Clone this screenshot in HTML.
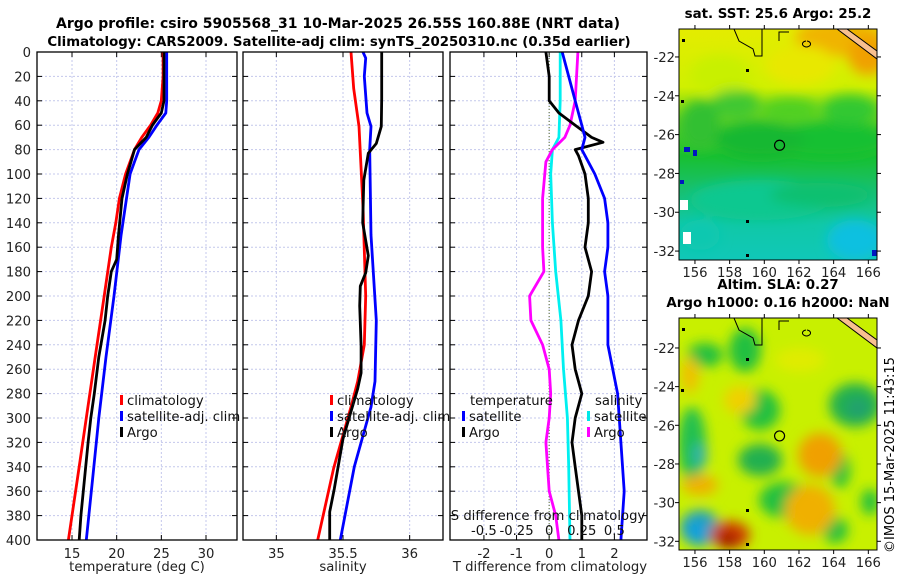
<!DOCTYPE html>
<html><head><meta charset="utf-8">
<style>
html,body{margin:0;padding:0;background:#fff;}
svg{display:block;font-family:"DejaVu Sans","Liberation Sans",sans-serif;}
</style></head>
<body>
<svg id="chart" width="900" height="580" viewBox="0 0 900 580" xmlns="http://www.w3.org/2000/svg">
<defs>
<filter id="blur1" x="-50%" y="-50%" width="200%" height="200%"><feGaussianBlur stdDeviation="6"/></filter>
<clipPath id="clipMapTop"><rect x="679" y="29" width="198" height="231"/></clipPath>
<clipPath id="clipMapBot"><rect x="679" y="318" width="198" height="232"/></clipPath>
<clipPath id="clipP1"><rect x="37" y="52" width="200" height="488"/></clipPath>
<clipPath id="clipP2"><rect x="243" y="52" width="200" height="488"/></clipPath>
<clipPath id="clipP3"><rect x="450" y="52" width="197" height="488"/></clipPath>
<linearGradient id="sstGrad" x1="0" y1="0" x2="0" y2="1">
<stop offset="0" stop-color="#e4ec00"/><stop offset="0.25" stop-color="#d0f000"/>
<stop offset="0.4" stop-color="#60d020"/><stop offset="0.55" stop-color="#18c030"/>
<stop offset="0.7" stop-color="#18c070"/><stop offset="0.85" stop-color="#10c8a8"/><stop offset="1" stop-color="#10c8b8"/>
</linearGradient>
</defs>
<text x="338" y="28" font-size="14" font-weight="bold" text-anchor="middle">Argo profile: csiro 5905568_31 10-Mar-2025 26.55S 160.88E (NRT data)</text>
<text x="339" y="46" font-size="13.3" font-weight="bold" text-anchor="middle">Climatology: CARS2009. Satellite-adj clim: synTS_20250310.nc (0.35d earlier)</text>
<g id="panels"></g>
<g id="maps"></g>
<text transform="translate(894,455) rotate(-90)" font-size="13" text-anchor="middle">©IMOS 15-Mar-2025 11:43:15</text>
</svg>
<script>
// ---------- DATA ----------
const depthTicks = [0,20,40,60,80,100,120,140,160,180,200,220,240,260,280,300,320,340,360,380,400];
const tempTicks = [15,20,25,30];
const salTicks = [35,35.5,36];
const salTickLabels = ["35","35.5","36"];
const tdiffTicks = [-2,-1,0,1,2];
const sdiffTicks = [-0.5,-0.25,0,0.25,0.5];
const sdiffTickLabels = ["-0.5","-0.25","0","0.25","0.5"];

const tClimDepth = [0,20,40,50,60,70,80,100,120,140,160,200,250,300,350,400];
const tClimVal   = [25.2,25.2,25.0,24.6,23.8,22.8,22.0,21.0,20.3,19.9,19.4,18.6,17.6,16.6,15.6,14.6];
const tSatDepth  = [0,40,50,60,70,80,90,100,150,200,250,300,350,400];
const tSatVal    = [25.6,25.6,25.5,24.5,23.6,22.5,22.0,21.5,20.5,19.7,18.8,18.0,17.3,16.6];
const tArgoDepth = [0,40,50,60,70,80,90,100,120,150,170,180,200,220,250,280,300,320,350,380,400];
const tArgoVal   = [25.3,25.3,25.0,24.0,23.3,22.0,21.6,21.2,20.6,20.2,20.0,19.4,19.0,18.7,18.0,17.5,17.1,16.8,16.4,16.0,15.8];

const sClimDepth = [0,30,61,127,200,240,270,291,341,400];
const sClimVal   = [35.56,35.58,35.62,35.65,35.67,35.66,35.61,35.56,35.43,35.31];
const sSatDepth  = [0,5,20,50,61,80,150,220,270,291,340,400];
const sSatVal    = [35.65,35.67,35.66,35.68,35.71,35.70,35.71,35.75,35.74,35.71,35.585,35.48];
const sArgoDepth = [0,38,61,75,83,105,140,167,181,192,208,241,263,276,317,358,377,400];
const sArgoVal   = [35.79,35.79,35.787,35.75,35.69,35.656,35.648,35.69,35.67,35.63,35.625,35.636,35.636,35.61,35.5,35.435,35.40,35.40];

const dTArgoDepth = [0,20,40,50,60,70,74,80,85,100,120,140,160,180,200,220,240,260,280,300,320,340,360,380,400];
const dTArgoVal   = [-0.1,0.0,0.0,0.3,0.8,1.3,1.65,0.8,0.9,1.1,1.2,1.2,1.1,1.3,1.2,0.9,0.7,0.8,1.0,0.8,0.7,0.8,0.9,1.0,1.0];
const dTSatDepth  = [0,20,40,60,70,80,90,100,120,140,160,180,200,240,280,320,360,400];
const dTSatVal    = [0.4,0.6,0.8,1.0,1.1,1.0,1.2,1.4,1.7,1.8,1.8,1.7,1.8,1.8,2.1,2.2,2.3,2.2];
const dSSatDepth  = [0,40,70,80,100,140,180,220,260,300,340,400];
const dSSatVal    = [0.085,0.085,0.075,0.025,0.012,0.025,0.05,0.09,0.11,0.14,0.15,0.16];
const dSArgoDepth = [0,40,60,70,80,90,120,160,180,200,220,240,260,280,300,320,360,380,400];
const dSArgoVal   = [0.22,0.2,0.16,0.12,0.025,-0.025,-0.05,-0.05,-0.04,-0.15,-0.14,-0.05,0.0,0.012,0.0,-0.025,0.0,0.05,0.075];

const mapLonTicks = [156,158,160,162,164,166];
const mapLatTicks = [-22,-24,-26,-28,-30,-32];
const argoLon = [160.88];
const argoLat = [-26.55];

// ---------- HELPERS ----------
const NS = "http://www.w3.org/2000/svg";
function mk(tag, attrs, parent){ const e=document.createElementNS(NS,tag); for(const k in attrs) e.setAttribute(k,attrs[k]); parent.appendChild(e); return e; }
const P = document.getElementById('panels');
const M = document.getElementById('maps');
const yTop=52, yBot=540;
const FS=13.2;
function yScale(d){ return yTop + (d/400)*(yBot-yTop); }

function makePanel(name, x0, x1, vmin, vmax){
  return { name, x0, x1, sx: v => x0 + (v-vmin)/(vmax-vmin)*(x1-x0) };
}
const p1 = makePanel('temperature-panel',37,237,11.08,33.47);
const p2 = makePanel('salinity-panel',243,443,34.75,36.25);
const p3 = makePanel('difference-panel',450,647,-3.04,3.0);
const sdx = v => p3.sx(v*4);

function grid(p, xt, sxf, withLabels, labels){
  const g = mk('g',{},P);
  
  
  depthTicks.forEach(d=>{
    const y=yScale(d);
    if(d>0 && d<400){
      const l=mk('line',{x1:p.x0,x2:p.x1,y1:y,y2:y,stroke:'#c4c8ec','stroke-width':1,'stroke-dasharray':'2,2'},g);
      
      
    }
    mk('line',{x1:p.x0,x2:p.x0+5,y1:y,y2:y,stroke:'#000'},g);
    mk('line',{x1:p.x1-5,x2:p.x1,y1:y,y2:y,stroke:'#000'},g);
    if(withLabels){
      const t=mk('text',{x:p.x0-6,y:y+5,'font-size':FS,'text-anchor':'end',fill:'#222'},g);
      t.textContent=d;
      
      
    }
  });
  xt.forEach((v,i)=>{
    const x=sxf(v);
    const l=mk('line',{x1:x,x2:x,y1:yTop,y2:yBot,stroke:'#c4c8ec','stroke-width':1,'stroke-dasharray':'2,2'},g);
    
    
    mk('line',{x1:x,x2:x,y1:yBot,y2:yBot-5,stroke:'#000'},g);
    mk('line',{x1:x,x2:x,y1:yTop,y2:yTop+5,stroke:'#000'},g);
    const t=mk('text',{x:x,y:yBot+18,'font-size':FS,'text-anchor':'middle',fill:'#222'},g);
    t.textContent=labels?labels[i]:v;
    
    
  });
}
function frame(p){
  const r=mk('rect',{x:p.x0,y:yTop,width:p.x1-p.x0,height:yBot-yTop,fill:'none',stroke:'#000','stroke-width':1.3},P);
  
  
}
function series(name, depths, vals, sxf, color, clip){
  const pts = depths.map((d,i)=> sxf(vals[i]).toFixed(1)+','+yScale(d).toFixed(1)).join(' ');
  const pl = mk('polyline',{points:pts,fill:'none',stroke:color,'stroke-width':2.8,'stroke-linejoin':'round','clip-path':'url(#'+clip+')'},P);
  
  
}
function legendEntry(name, x, y, color, label){
  const g=mk('g',{},P);
  
  
  mk('rect',{x:x,y:y-10,width:3,height:10,fill:color},g);
  const t=mk('text',{x:x+7,y:y,'font-size':FS,fill:'#111'},g);
  t.textContent=label;
}
function xlabel(name, x, y, txt){
  const t=mk('text',{x:x,y:y,'font-size':FS,'text-anchor':'middle',fill:'#222'},P);
  t.textContent=txt;
  
  
}

// ---------- PANEL 1 ----------
grid(p1,tempTicks,p1.sx,true);
series('temp-climatology-line',tClimDepth,tClimVal,p1.sx,'#ff0000','clipP1');
series('temp-satellite-line',tSatDepth,tSatVal,p1.sx,'#0000ff','clipP1');
series('temp-argo-line',tArgoDepth,tArgoVal,p1.sx,'#000000','clipP1');
frame(p1);
legendEntry('legend-climatology',120,405,'#ff0000','climatology');
legendEntry('legend-satellite-adj',120,421,'#0000ff','satellite-adj. clim');
legendEntry('legend-argo',120,437,'#000000','Argo');
xlabel('x-axis-title-temperature',137,571,'temperature (deg C)');

// ---------- PANEL 2 ----------
grid(p2,salTicks,p2.sx,false,salTickLabels);
series('sal-climatology-line',sClimDepth,sClimVal,p2.sx,'#ff0000','clipP2');
series('sal-satellite-line',sSatDepth,sSatVal,p2.sx,'#0000ff','clipP2');
series('sal-argo-line',sArgoDepth,sArgoVal,p2.sx,'#000000','clipP2');
frame(p2);
legendEntry('legend-sal-climatology',330,405,'#ff0000','climatology');
legendEntry('legend-sal-satellite-adj',330,421,'#0000ff','satellite-adj. clim');
legendEntry('legend-sal-argo',330,437,'#000000','Argo');
xlabel('x-axis-title-salinity',343,571,'salinity');

// ---------- PANEL 3 ----------
grid(p3,tdiffTicks,p3.sx,false);
(function(){
  const z=p3.sx(0);
  const l=mk('line',{x1:z,x2:z,y1:yTop,y2:yBot,stroke:'#556b2f','stroke-width':1,'stroke-dasharray':'1,2'},P);
  
  
})();
series('sdiff-satellite-line',dSSatDepth,dSSatVal,sdx,'#00f0f0','clipP3');
series('sdiff-argo-line',dSArgoDepth,dSArgoVal,sdx,'#ff00ff','clipP3');
series('tdiff-argo-line',dTArgoDepth,dTArgoVal,p3.sx,'#000000','clipP3');
series('tdiff-satellite-line',dTSatDepth,dTSatVal,p3.sx,'#0000ff','clipP3');
frame(p3);
(function(){
  let t=mk('text',{x:470,y:405,'font-size':FS,fill:'#111'},P);
  t.textContent='temperature';
  
  
  t=mk('text',{x:595,y:405,'font-size':FS,fill:'#111'},P);
  t.textContent='salinity';
  
  
})();
legendEntry('legend-tdiff-satellite',462,421,'#0000ff','satellite');
legendEntry('legend-tdiff-argo',462,437,'#000000','Argo');
legendEntry('legend-sdiff-satellite',587,421,'#00e8e8','satellite');
legendEntry('legend-sdiff-argo',587,437,'#ff00ff','Argo');
(function(){
  const t=mk('text',{x:548,y:520,'font-size':FS,'text-anchor':'middle',fill:'#111'},P);
  t.textContent='S difference from climatology';
  
  
  sdiffTicks.forEach((v,i)=>{
    const tt=mk('text',{x:sdx(v),y:535,'font-size':FS,'text-anchor':'middle',fill:'#111'},P);
    tt.textContent=sdiffTickLabels[i];
    
    
  });
})();
xlabel('x-axis-title-tdiff',550,571,'T difference from climatology');

// ---------- MAPS ----------
function drawMap(name, y0, y1, latTop, latBot, kind, clip, title){
  const x0=679, x1=877, lonL=155.08, lonR=166.5;
  const lx = lon => x0 + (lon-lonL)/(lonR-lonL)*(x1-x0);
  const ly = lat => y0 + (latTop-lat)/(latTop-latBot)*(y1-y0);
  const g=mk('g',{},M);
  
  
  const inner=mk('g',{'clip-path':'url(#'+clip+')'},g);
  if(kind==='sst'){
    mk('rect',{x:x0,y:y0,width:198,height:231,fill:'url(#sstGrad)'},inner);
  } else {
    mk('rect',{x:x0,y:y0,width:198,height:232,fill:'#c8f000'},inner);
  }
  const blobs=mk('g',{filter:'url(#blur1)'},inner);
  if(kind==='sst'){
    [[840,38,45,18,'#f0b400'],[868,55,20,20,'#f0a000'],[800,65,35,20,'#e8e800'],[720,75,30,20,'#c8f000'],
     [735,105,25,15,'#40c830'],[700,125,20,25,'#30c030'],[830,140,60,18,'#18c030'],[760,140,45,18,'#18b830'],
     [760,200,70,20,'#10c890'],[855,240,28,20,'#10c0e0'],[700,235,20,15,'#10c8b0'],[820,195,50,12,'#10c070'],
     [850,110,28,15,'#30c830'],[790,110,30,12,'#50d020']
    ].forEach(b=>mk('ellipse',{cx:b[0],cy:b[1],rx:b[2],ry:b[3],fill:b[4]},blobs));
    [[680,200,8,10],[683,232,8,12]].forEach(r=>{
      const e=mk('rect',{x:r[0],y:r[1],width:r[2],height:r[3],fill:'#fff'},inner);
      
      
    });
    [[684,147,6,5],[693,150,4,6],[680,180,4,4],[872,250,5,6]].forEach(r=>mk('rect',{x:r[0],y:r[1],width:r[2],height:r[3],fill:'#0018c0'},inner));
  } else {
    [[705,355,18,12,'#20c040'],[745,350,16,22,'#20c040'],[855,405,26,22,'#20b050'],[858,408,12,10,'#20a070'],
     [692,445,14,38,'#20c050'],[700,455,7,12,'#30b0b0'],[760,460,22,16,'#20b050'],[785,500,26,18,'#20c040'],
     [840,470,10,18,'#20c040'],[870,502,9,13,'#20c040'],[835,530,13,13,'#20c040'],[760,410,20,20,'#20c040'],
     [700,528,20,18,'#20a0c0'],[696,532,9,10,'#10a0e0'],[730,535,20,14,'#d04000'],[728,540,10,8,'#a01800'],
     [820,455,22,22,'#f0a000'],[810,510,25,25,'#f0b000'],[700,485,18,10,'#f0b000'],[740,400,16,14,'#f0d000'],
     [690,375,9,18,'#f0c000'],[800,360,25,12,'#e0ec00']
    ].forEach(b=>mk('ellipse',{cx:b[0],cy:b[1],rx:b[2],ry:b[3],fill:b[4]},blobs));
  }
  const c1=mk('path',{d:`M${x0+55},${y0} L${x0+60},${y0+12} L${x0+74},${y0+20} L${x0+76},${y0+27} L${x0+83},${y0+27} L${x0+83},${y0} M${x0+100},${y0+12} L${x0+100},${y0+3} L${x0+110},${y0+3} M${x0+127},${y0+12} a4,3 0 1,0 1,0`,fill:'none',stroke:'#000','stroke-width':1},inner);
  
  
  const land=mk('path',{d:`M${x1-40},${y0} L${x1},${y0+30} L${x1},${y0+22} L${x1-30},${y0}Z`,fill:'#f8c090',stroke:'#000','stroke-width':1},inner);
  
  
  [[x0+3,y0+10],[x0+2,y0+71],[x0+67,y0+40],[x0+67,y0+191],[x0+67,y0+225]].forEach(p=>mk('rect',{x:p[0],y:p[1],width:3,height:3,fill:'#000'},inner));
  argoLon.forEach((lon,i)=>{
    const c=mk('circle',{cx:lx(lon),cy:ly(argoLat[i]),r:5,fill:'none',stroke:'#000','stroke-width':1.2},g);
    
    
  });
  const fr=mk('rect',{x:x0,y:y0,width:x1-x0,height:y1-y0,fill:'none',stroke:'#000','stroke-width':1},g);
  
  
  mapLonTicks.forEach(lon=>{
    const x=lx(lon);
    mk('line',{x1:x,x2:x,y1:y1,y2:y1+4,stroke:'#000'},g);
    mk('line',{x1:x,x2:x,y1:y0,y2:y0-4,stroke:'#000'},g);
    const t=mk('text',{x:x,y:y1+17,'font-size':FS,'text-anchor':'middle',fill:'#222'},g);
    t.textContent=lon;
    
    
  });
  mapLatTicks.forEach(lat=>{
    const y=ly(lat);
    mk('line',{x1:x0,x2:x0-4,y1:y,y2:y,stroke:'#000'},g);
    mk('line',{x1:x1,x2:x1+4,y1:y,y2:y,stroke:'#000'},g);
    const t=mk('text',{x:x0-4,y:y+5,'font-size':FS,'text-anchor':'end',fill:'#222'},g);
    t.textContent=lat;
    
    
  });
  title.forEach((tx,i)=>{
    const t=mk('text',{x:778,y:y0-11-(title.length-1-i)*18,'font-size':13.4,'font-weight':'bold','text-anchor':'middle'},g);
    t.textContent=tx;
    
    
  });
}
drawMap('sst-map',29,260,-20.56,-32.46,'sst','clipMapTop',['sat. SST: 25.6 Argo: 25.2']);
drawMap('sla-map',318,550,-20.45,-32.45,'sla','clipMapBot',['Altim. SLA: 0.27','Argo h1000: 0.16 h2000: NaN']);
</script>
</body></html>
